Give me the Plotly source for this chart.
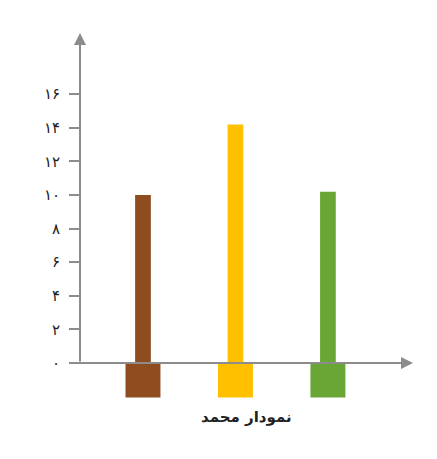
import plotly.graph_objects as go

x_pos = [1, 2, 3]
values = [10, 14.2, 10.2]
colors = ["#8f4d1f", "#ffc000", "#6aa636"]
tick_vals = [0, 2, 4, 6, 8, 10, 12, 14, 16]
tick_text = ["۰", "۲", "۴", "۶", "۸", "۱۰", "۱۲", "۱۴", "۱۶"]
title = "نمودار محمد"

axis_grey = "#8c8c8c"
y_lo, y_hi = -2.2, 19.64

fig = go.Figure()
# legend blocks under the axis
fig.add_trace(go.Bar(x=x_pos, y=[2.05] * 3, base=[-2.05] * 3, width=0.378,
                     marker=dict(color=colors, line=dict(width=0)), hoverinfo="skip"))
fig.add_trace(go.Bar(x=x_pos, y=values, width=0.17,
                     marker=dict(color=colors, line=dict(width=0))))

zero = -y_lo / (y_hi - y_lo)
arrow = dict(xref="x domain", yref="y domain", axref="x domain", ayref="y domain", text="",
             showarrow=True, arrowhead=2, arrowsize=1.2, arrowwidth=2, arrowcolor=axis_grey)
fig.add_annotation(x=0, y=1.0, ax=0, ay=zero, **arrow)
fig.add_annotation(x=1.0, y=zero, ax=-0.03, ay=zero, **arrow)
fig.add_annotation(x=0.5, y=-0.075, xref="paper", yref="paper", text="<b>" + title + "</b>",
                   showarrow=False, font=dict(family="DejaVu Sans", size=15, color="#222"))

fig.update_layout(
    width=437, height=459, showlegend=False, barmode="overlay",
    paper_bgcolor="white", plot_bgcolor="white",
    margin=dict(l=72, r=32, t=25, b=67),
    xaxis=dict(range=[0.319, 3.92], visible=False, fixedrange=True),
    yaxis=dict(range=[y_lo, y_hi], tickvals=tick_vals, ticktext=tick_text,
               ticks="outside", ticklen=10, tickwidth=2, tickcolor=axis_grey,
               showgrid=False, zeroline=False, showline=False,
               ticklabelstandoff=6,
               tickfont=dict(family="DejaVu Sans", size=15, color="#222")),
)

fig.write_html("out.html")
